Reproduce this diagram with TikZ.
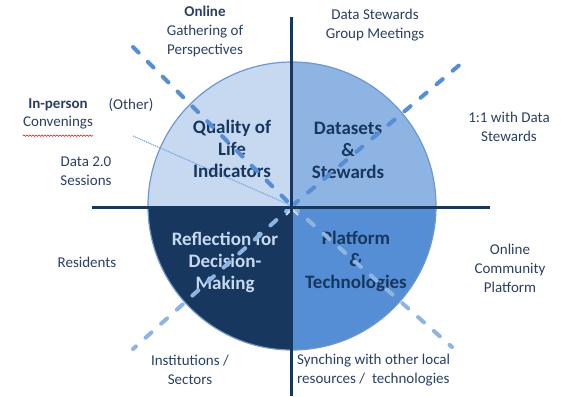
\documentclass[tikz,border=0pt]{standalone}
\usepackage{fontspec}
\setmainfont{Carlito}
\usetikzlibrary{decorations.pathmorphing}
\definecolor{qa}{HTML}{C6D9F1}
\definecolor{qb}{HTML}{8EB4E3}
\definecolor{qc}{HTML}{558ED5}
\definecolor{qd}{HTML}{17375E}
\definecolor{rim}{HTML}{6F97CF}
\definecolor{lbl}{HTML}{2B3F63}
\definecolor{dot}{HTML}{7FA6DA}
\tikzset{
  outer/.style={text=lbl, font=\fontsize{15}{19}\selectfont, align=center, inner sep=0pt},
  quad/.style={text=qd, font=\fontsize{19}{22}\selectfont\bfseries, align=center, inner sep=0pt},
  axis/.style={draw=qd, line width=3pt},
  dashA/.style={draw=qc, line width=4pt, line cap=round, dash pattern=on 8pt off 13pt},
  dashB/.style={draw=qb, line width=4pt, line cap=round, dash pattern=on 8pt off 13pt},
}
\begin{document}
\begin{tikzpicture}[x=1pt,y=-1pt]
\useasboundingbox (0,0) rectangle (561,396);
\coordinate (c) at (292,206);
% quadrants
\begin{scope}\clip (140,50) rectangle (292,206); \fill[qa] (c) circle (144); \end{scope}
\begin{scope}\clip (292,50) rectangle (450,206); \fill[qb] (c) circle (144); \end{scope}
\begin{scope}\clip (292,206) rectangle (450,360); \fill[qc] (c) circle (144); \end{scope}
\begin{scope}\clip (140,206) rectangle (292,360); \fill[qd] (c) circle (144); \end{scope}
\draw[rim, line width=1.2pt] (c) circle (144);
% thin dotted line
\coordinate (dl) at (133,136);
\draw[dot, line width=1.1pt, dash pattern=on 1.2pt off 0.8pt] (dl) -- (c);
% quadrant labels
\node[quad] (ql) at (232,149) {Quality of\\Life\\Indicators};
\node[quad] (ds) at (348,150) {Datasets\\\&\\Stewards};
\node[quad] (pt) at (356,261) {Platform\\\&\\Technologies};
\node[quad, text=qa] (rd) at (225,262) {Reflection for\\Decision-\\Making};
% dashed lines
\coordinate (nw) at (133,47);
\coordinate (se) at (452,347);
\coordinate (ne) at (463,62);
\coordinate (sw) at (133,349);
\draw[dashA] (nw) -- (c);
\draw[dashB] (c) -- (se);
\draw[dashA] (c) -- (ne);
\draw[dashB] (c) -- (sw);
\draw[qa, line width=2pt] (286,215) -- (292,209) -- (298,215);
% axes
\coordinate (hl) at (92,207);
\coordinate (hr) at (490,207);
\coordinate (vt) at (291,17);
\coordinate (vb) at (291,396);
\draw[axis] (hl) -- (hr);
\draw[axis] (vt) -- (vb);
% outer labels
\node[outer] (on) at (205,31) {\textbf{Online}\\Gathering of\\Perspectives};
\node[outer] (dsg) at (375,25) {Data Stewards\\Group Meetings};
\node[outer] (one) at (509,127) {1:1 with Data\\Stewards};
\node[outer] (ip) at (58,105) {\textbf{In-person}};
\node[outer] (cv) at (58,123) {Convenings};
\draw[red, line width=0.6pt, decorate, decoration={snake, amplitude=0.7pt, segment length=3pt}] ([yshift=-6pt]cv.south west) -- ([yshift=-6pt]cv.south east);
\node[outer] (ot) at (131,105) {(Other)};
\node[outer] (d20) at (86,171) {Data 2.0\\Sessions};
\node[outer] (res) at (87,262) {Residents};
\node[outer] (ins) at (190,370) {Institutions /\\Sectors};
\node[outer] (ocp) at (510,268) {Online\\Community\\Platform};
\node[outer, anchor=west, align=left] (syn) at (297,370) {Synching with other local\\resources /\ \ technologies};
\end{tikzpicture}
\end{document}
